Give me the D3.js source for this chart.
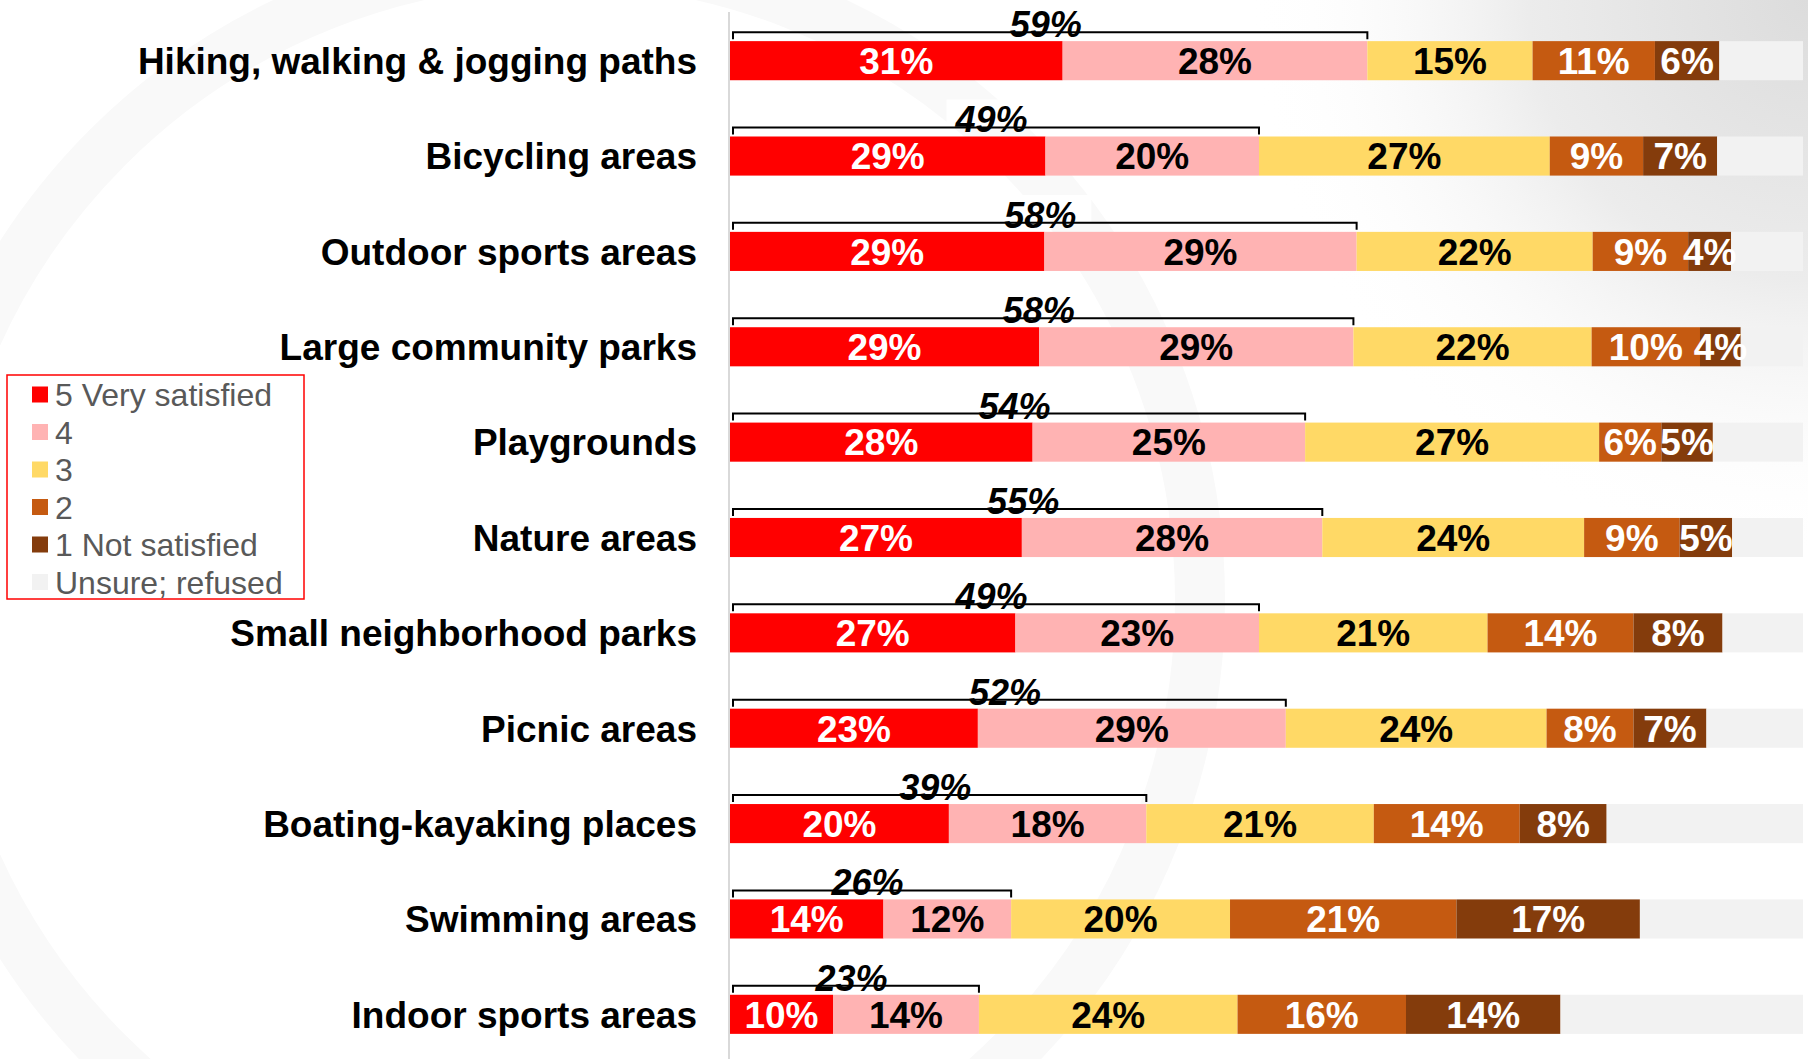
<!DOCTYPE html>
<html>
<head>
<meta charset="utf-8">
<script src="https://cdn.jsdelivr.net/npm/d3@7"></script>
<style>
  body { margin: 0; background: #fff; overflow: hidden; }
  text { font-family: "Liberation Sans", Arial, sans-serif; }
</style>
</head>
<body>
<div id="main-diagram"></div>
<script>
const width = 1808
const height = 1059

// facilities, top to bottom
const categories = [
    'Hiking, walking & jogging paths',
    'Bicycling areas',
    'Outdoor sports areas',
    'Large community parks',
    'Playgrounds',
    'Nature areas',
    'Small neighborhood parks',
    'Picnic areas',
    'Boating-kayaking places',
    'Swimming areas',
    'Indoor sports areas'
]

// percent of respondents per rating
const verySatisfied = [31.0, 29.4, 29.3, 28.8, 28.2, 27.2, 26.6, 23.1, 20.4, 14.3, 9.6]
const rating4 = [28.4, 19.9, 29.1, 29.3, 25.4, 28.0, 22.7, 28.7, 18.4, 11.9, 13.6]
const rating3 = [15.4, 27.1, 22.0, 22.2, 27.4, 24.4, 21.3, 24.3, 21.2, 20.4, 24.1]
const rating2 = [11.4, 8.7, 8.9, 10.1, 5.8, 8.9, 13.6, 8.1, 13.6, 21.1, 15.7]
const notSatisfied = [6.0, 6.9, 4.0, 3.8, 4.8, 4.9, 8.3, 6.8, 8.1, 17.1, 14.4]
const unsure = [7.8, 8.0, 6.7, 5.8, 8.4, 6.6, 7.5, 9.0, 18.3, 15.2, 22.6]

const seriesKeys = ['5 Very satisfied', '4', '3', '2', '1 Not satisfied', 'Unsure; refused']
const seriesColors = ['#ff0000', '#ffb3b3', '#ffd966', '#c55a11', '#843c0c', '#f2f2f2']
const labelColors = ['#ffffff', '#000000', '#000000', '#ffffff', '#ffffff', null]

const table = categories.map(function (c, i) {
    return {
        name: c,
        '5 Very satisfied': verySatisfied[i],
        '4': rating4[i],
        '3': rating3[i],
        '2': rating2[i],
        '1 Not satisfied': notSatisfied[i],
        'Unsure; refused': unsure[i]
    }
})

const svg = d3.select('#main-diagram')
    .append('svg')
    .attr('width', width)
    .attr('height', height)

// faint slide background: grey haze top right, soft arc on the left
const defs = svg.append('defs')
const haze = defs.append('radialGradient').attr('id', 'haze')
    .attr('gradientUnits', 'userSpaceOnUse')
    .attr('cx', 1808).attr('cy', 0).attr('r', 560)
haze.append('stop').attr('offset', '0').attr('stop-color', '#dcdcdc')
haze.append('stop').attr('offset', '0.5').attr('stop-color', '#ececec')
haze.append('stop').attr('offset', '1').attr('stop-color', '#ffffff').attr('stop-opacity', 0)
svg.append('rect').attr('width', width).attr('height', height).attr('fill', '#ffffff')
svg.append('rect').attr('width', width).attr('height', height).attr('fill', 'url(#haze)')
svg.append('circle').attr('cx', 560).attr('cy', 600).attr('r', 640)
    .attr('fill', 'none').attr('stroke', '#f9f9f9').attr('stroke-width', 50)

const x = d3.scaleLinear().domain([0, 100]).range([730, 1803])
const y = d3.scaleBand()
    .domain(categories)
    .range([13, 1062])
    .paddingInner(0.59)
    .paddingOuter(0.295)

const stacked = d3.stack().keys(seriesKeys)(table)

// axis line
svg.append('line')
    .attr('x1', x(0) - 1).attr('x2', x(0) - 1)
    .attr('y1', 12).attr('y2', height)
    .attr('stroke', '#d9d9d9').attr('stroke-width', 2)

const layers = svg.selectAll('g.layer')
    .data(stacked)
    .enter()
    .append('g')
    .attr('class', 'layer')
    .attr('fill', function (d, i) { return seriesColors[i] })

layers.selectAll('rect')
    .data(function (d) { return d })
    .enter()
    .append('rect')
    .attr('x', function (d) { return x(d[0]) })
    .attr('y', function (d) { return y(d.data.name) })
    .attr('width', function (d) { return x(d[1]) - x(d[0]) })
    .attr('height', y.bandwidth())

// segment labels
stacked.forEach(function (layer, i) {
    if (!labelColors[i]) return
    svg.append('g')
        .selectAll('text')
        .data(layer)
        .enter()
        .append('text')
        .attr('x', function (d) { return (x(d[0]) + x(d[1])) / 2 })
        .attr('y', function (d) { return y(d.data.name) + y.bandwidth() / 2 })
        .attr('dy', '0.36em')
        .attr('text-anchor', 'middle')
        .attr('font-size', 37)
        .attr('font-weight', 'bold')
        .attr('fill', labelColors[i])
        .text(function (d) { return Math.round(d[1] - d[0]) + '%' })
})

// top-two brackets
const top2 = stacked[1]
const brackets = svg.append('g').selectAll('g')
    .data(top2)
    .enter()
    .append('g')

brackets.append('rect')
    .attr('x', function (d) { return (x(0) + x(d[1])) / 2 - 48 })
    .attr('y', function (d) { return y(d.data.name) - 37 })
    .attr('width', 96)
    .attr('height', 28)
    .attr('fill', '#ffffff')

brackets.append('path')
    .attr('d', function (d) {
        const top = y(d.data.name)
        return 'M' + (x(0) + 3) + ',' + (top - 2) + 'V' + (top - 9) + 'H' + x(d[1]) + 'V' + (top - 2)
    })
    .attr('fill', 'none')
    .attr('stroke', '#000')
    .attr('stroke-width', 2)

brackets.append('text')
    .attr('x', function (d) { return (x(0) + x(d[1])) / 2 - 3 })
    .attr('y', function (d) { return y(d.data.name) - 4 })
    .attr('text-anchor', 'middle')
    .attr('font-size', 36)
    .attr('font-weight', 'bold')
    .attr('font-style', 'italic')
    .attr('fill', '#000')
    .text(function (d) { return Math.round(d[1]) + '%' })

// category labels
svg.append('g').selectAll('text')
    .data(categories)
    .enter()
    .append('text')
    .attr('x', 697)
    .attr('y', function (d) { return y(d) + y.bandwidth() / 2 })
    .attr('dy', '0.36em')
    .attr('text-anchor', 'end')
    .attr('font-size', 37)
    .attr('font-weight', 'bold')
    .attr('fill', '#000')
    .text(function (d) { return d })

// legend
const legend = svg.append('g')
legend.append('rect')
    .attr('x', 7).attr('y', 375)
    .attr('width', 297).attr('height', 224)
    .attr('fill', '#ffffff')
    .attr('stroke', '#ff0000')
    .attr('stroke-width', 1.5)

const items = legend.selectAll('g.item')
    .data(seriesKeys)
    .enter()
    .append('g')
    .attr('class', 'item')
    .attr('transform', function (d, i) { return `translate(32, ${394.5 + i * 37.5})` })

items.append('rect')
    .attr('x', 0).attr('y', -8)
    .attr('width', 16).attr('height', 16)
    .attr('fill', function (d, i) { return seriesColors[i] })

items.append('text')
    .attr('x', 23)
    .attr('dy', '0.36em')
    .attr('font-size', 32)
    .attr('fill', '#595959')
    .text(function (d) { return d })
</script>
</body>
</html>
